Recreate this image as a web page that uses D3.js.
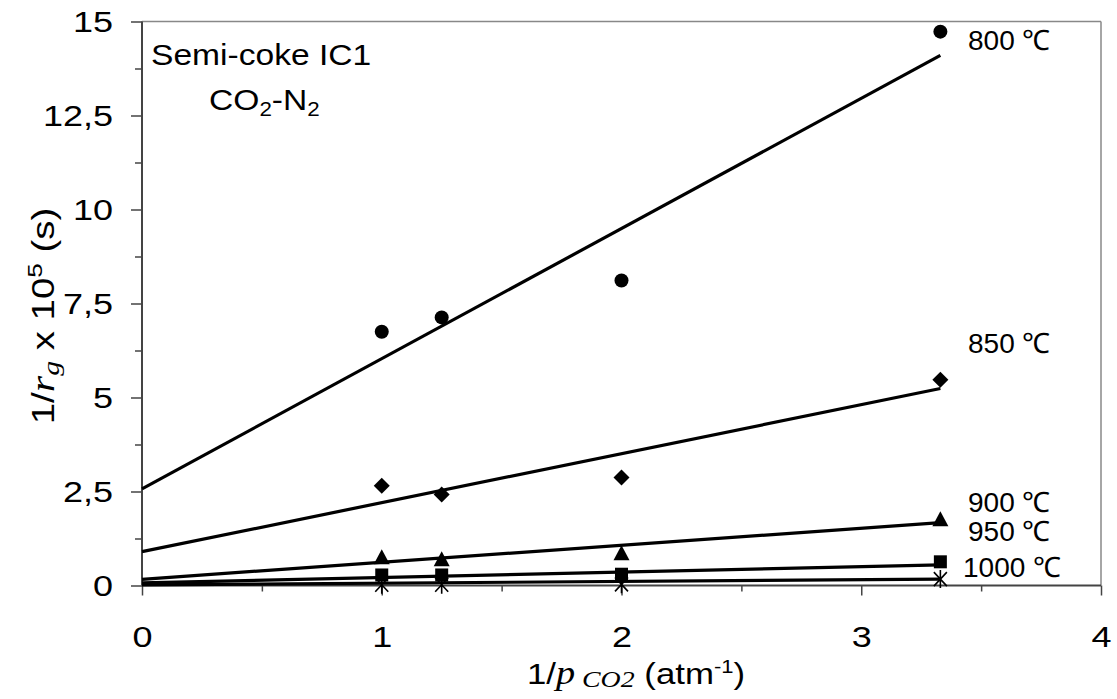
<!DOCTYPE html>
<html><head><meta charset="utf-8">
<script src="https://cdn.jsdelivr.net/npm/d3@7"></script>
<style>
html,body{margin:0;padding:0;background:#fff;}
svg{display:block;}
text{font-family:"Liberation Sans",Arial,sans-serif;fill:#000;}
</style></head>
<body><svg id="c" width="1117" height="699"></svg>
<script>
// ---- data ----
const xValues = [1, 1.25, 2, 3.33];
const seriesNames = ["800 ℃", "850 ℃", "900 ℃", "950 ℃", "1000 ℃"];
const values800 = [6.75, 7.13, 8.11, 14.73];
const values850 = [2.65, 2.42, 2.87, 5.47];
const values900 = [0.75, 0.70, 0.86, 1.76];
const values950 = [0.28, 0.28, 0.30, 0.63];
const values1000 = [0.02, 0.02, 0.03, 0.17];
// trend lines: value at x=0 and at x=3.33
const trendStart = [2.57, 0.90, 0.165, 0.07, 0.015];
const trendEnd = [14.1, 5.24, 1.67, 0.55, 0.17];
const trendX = [0, 3.33];
const markerTypes = ["circle", "diamond", "triangle", "square", "star"];
const xTicks = [0, 1, 2, 3, 4];
const xMinorTicks = [0.5, 1.5, 2.5, 3.5];
const yTicks = [0, 2.5, 5, 7.5, 10, 12.5, 15];
const yMinorTicks = [1.25, 3.75, 6.25, 8.75, 11.25, 13.75];
const labelPos = [[968, 50], [968, 353], [968, 512], [968, 541], [963, 577]];

const allValues = [values800, values850, values900, values950, values1000];

const svg = d3.select("#c");
const L = 142, R = 1101, T = 21.5, B = 585.5;
const x = d3.scaleLinear().domain([0, 4]).range([L, R]);
const y = d3.scaleLinear().domain([0, 15]).range([B, T]);

function stretch(sel, s) {
  sel.each(function () {
    const t = d3.select(this);
    const tx = +t.attr("x") || 0, ty = +t.attr("y") || 0;
    t.attr("x", null).attr("y", null)
     .attr("transform", `translate(${tx},${ty}) scale(${s},1)`);
  });
  return sel;
}

// frame top/right
svg.append("line").attr("x1", L).attr("x2", R).attr("y1", T).attr("y2", T)
  .attr("stroke", "#888").attr("stroke-width", 1.5);
svg.append("line").attr("x1", R).attr("x2", R).attr("y1", T).attr("y2", B)
  .attr("stroke", "#888").attr("stroke-width", 1.5);

const fmt = d => String(d).replace(".", ",");
const TS = 1.2; // tick label stretch

// y axis
const yAxis = svg.append("g").attr("transform", `translate(${L},0)`)
  .call(d3.axisLeft(y).tickValues(yTicks).tickSize(11).tickPadding(18).tickFormat(fmt));
svg.append("g").attr("transform", `translate(${L},0)`)
  .call(d3.axisLeft(y).tickValues(yMinorTicks).tickSize(7).tickFormat(""))
  .call(g => g.select(".domain").remove());
// x axis
const xAxis = svg.append("g").attr("transform", `translate(0,${B})`)
  .call(d3.axisBottom(x).tickValues(xTicks).tickSize(10).tickPadding(30).tickFormat(d3.format("d")));
svg.append("g").attr("transform", `translate(0,${B})`)
  .call(d3.axisBottom(x).tickValues(xMinorTicks).tickSize(6).tickFormat(""))
  .call(g => g.select(".domain").remove());

svg.selectAll(".domain").attr("stroke", "#444").attr("stroke-width", 2);
svg.selectAll(".tick line").attr("stroke", "#444").attr("stroke-width", 1.5);
svg.selectAll(".tick text").style("font-family", '"Liberation Sans",Arial,sans-serif')
  .style("font-size", "30px").attr("fill", "#000");
yAxis.selectAll(".tick text").each(function () {
  const t = d3.select(this);
  t.attr("x", (+t.attr("x")) / TS).attr("transform", `scale(${TS},1)`);
});
xAxis.selectAll(".tick text").attr("transform", `scale(${TS},1)`);
yAxis.select(".domain").attr("d", `M0,${T}V${B}`);
xAxis.select(".domain").attr("d", `M${L},0H${R}`);

// trend lines
const line = d3.line().x(d => x(d[0])).y(d => y(d[1]));
seriesNames.forEach((n, i) => {
  svg.append("path")
    .attr("d", line([[trendX[0], trendStart[i]], [trendX[1], trendEnd[i]]]))
    .attr("stroke", "#000").attr("stroke-width", 3.2).attr("fill", "none");
});

// markers
function markerPath(t) {
  switch (t) {
    case "diamond": return "M0,-8L8,0L0,8L-8,0Z";
    case "triangle": return "M0,-8L8,7L-8,7Z";
    case "square": return "M-6.5,-6.5H6.5V6.5H-6.5Z";
    case "star": return "M-6.5,-7L6.5,7M-6.5,7L6.5,-7M0,-9V9";
  }
}
allValues.forEach((vals, i) => {
  const t = markerTypes[i];
  const g = svg.append("g");
  vals.forEach((v, j) => {
    if (t === "circle") {
      g.append("circle").attr("cx", x(xValues[j])).attr("cy", y(v)).attr("r", 7).attr("fill", "#000");
    } else if (t === "star") {
      g.append("path").attr("transform", `translate(${x(xValues[j])},${y(v)})`)
        .attr("d", markerPath(t)).attr("stroke", "#000").attr("stroke-width", 1.6).attr("fill", "none");
    } else {
      g.append("path").attr("transform", `translate(${x(xValues[j])},${y(v)})`)
        .attr("d", markerPath(t)).attr("fill", "#000");
    }
  });
});

// series labels
seriesNames.forEach((n, i) => {
  stretch(svg.append("text").attr("x", labelPos[i][0]).attr("y", labelPos[i][1])
    .style("font-size", "28px").text(n), 1.0);
});

// annotation
stretch(svg.append("text").attr("x", 151).attr("y", 65).style("font-size", "30px").text("Semi-coke IC1"), 1.12);
const ann = svg.append("text").attr("x", 209).attr("y", 110).style("font-size", "30px");
ann.append("tspan").text("CO");
ann.append("tspan").attr("dy", 6).style("font-size", "20px").text("2");
ann.append("tspan").attr("dy", -6).text("-N");
ann.append("tspan").attr("dy", 6).style("font-size", "20px").text("2");
stretch(ann, 1.12);

// x title
const serif = '"Liberation Serif","Times New Roman",serif';
const xt = svg.append("text").attr("x", 636).attr("y", 684).attr("text-anchor", "middle").style("font-size", "30px");
xt.append("tspan").text("1/");
xt.append("tspan").style("font-family", serif).style("font-style", "italic").style("font-size", "33px").text("p");
xt.append("tspan").attr("dy", 3).style("font-family", serif).style("font-style", "italic").style("font-size", "24px").text(" CO2");
xt.append("tspan").attr("dy", -3).text("  (atm");
xt.append("tspan").attr("dy", -11).style("font-size", "19px").text("-1");
xt.append("tspan").attr("dy", 11).text(")");
stretch(xt, 1.16);

// y title
const yt = svg.append("text").attr("text-anchor", "middle").style("font-size", "31px")
  .attr("transform", "translate(54,316) rotate(-90) scale(1.24,1)");
yt.append("tspan").text("1/");
yt.append("tspan").style("font-family", serif).style("font-style", "italic").style("font-size", "34px").text("r");
yt.append("tspan").attr("dy", 5).style("font-family", serif).style("font-style", "italic").style("font-size", "24px").text("g");
yt.append("tspan").attr("dy", -5).text(" x 10");
yt.append("tspan").attr("dy", -12).style("font-size", "21px").text("5");
yt.append("tspan").attr("dy", 12).text(" (s)");
</script></body></html>
